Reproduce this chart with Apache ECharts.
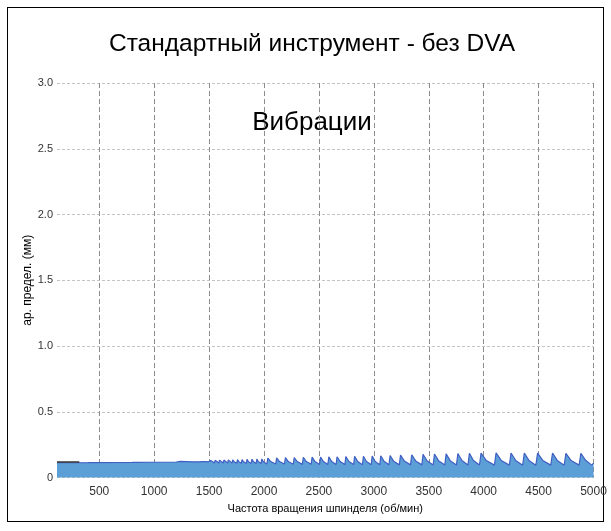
<!DOCTYPE html>
<html>
<head>
<meta charset="utf-8">
<script src="https://cdn.jsdelivr.net/npm/echarts@6/dist/echarts.min.js"></script>
<style>
html,body{margin:0;padding:0;background:#fff;}
#frame{position:absolute;left:7px;top:7px;width:597px;height:515px;border:1.5px solid #000;box-sizing:border-box;}
#chart{position:absolute;left:0;top:0;width:611px;height:531px;}
</style>
</head>
<body>
<div id="frame"></div>
<div id="chart"></div>
<script>
const chartTitle = 'Стандартный инструмент - без DVA';
const zoneLabel = 'Вибрации';
const xAxisName = 'Частота вращения шпинделя (об/мин)';
const yAxisName = 'ар. предел. (мм)';
const xRange = [115, 5000];
const yRange = [0, 3];
const xTickValues = [500, 1000, 1500, 2000, 2500, 3000, 3500, 4000, 4500, 5000];

// stability limit curve [rpm, mm]
const vibration = [
  [115,0.112],[400,0.113],[800,0.115],[1200,0.118],[1240,0.122],[1250,0.118],[1350,0.119],
  [1360,0.124],[1375,0.119],[1390,0.124],[1405,0.119],[1420,0.125],[1435,0.120],[1450,0.125],[1465,0.120],[1480,0.126],[1495,0.119],
  [1509,0.112],[1515,0.130],[1528,0.120],
  [1549,0.111],[1555,0.131],[1568,0.120],
  [1589,0.110],[1595,0.132],[1608,0.119],
  [1629,0.110],[1635,0.133],[1648,0.119],
  [1669,0.109],[1675,0.134],[1688,0.119],
  [1709,0.109],[1715,0.135],[1728,0.119],
  [1752,0.108],[1758,0.136],[1771,0.119],
  [1794,0.108],[1800,0.137],[1814,0.119],
  [1839,0.107],[1845,0.138],[1859,0.119],
  [1883,0.107],[1890,0.139],[1904,0.119],
  [1928,0.106],[1935,0.140],[1949,0.119],
  [1973,0.106],[1980,0.141],[1994,0.119],
  [2026,0.103],[2035,0.148],[2061,0.121],
  [2106,0.102],[2115,0.150],[2141,0.121],
  [2186,0.102],[2195,0.151],[2221,0.121],
  [2266,0.101],[2275,0.152],[2302,0.121],
  [2349,0.100],[2358,0.154],[2385,0.121],
  [2429,0.100],[2438,0.155],[2464,0.121],
  [2506,0.099],[2515,0.156],[2541,0.121],
  [2581,0.099],[2590,0.157],[2616,0.121],
  [2656,0.098],[2665,0.158],[2693,0.122],
  [2736,0.098],[2745,0.160],[2773,0.122],
  [2816,0.098],[2825,0.161],[2853,0.122],
  [2896,0.097],[2905,0.162],[2933,0.122],
  [2976,0.097],[2985,0.163],[3012,0.122],
  [3054,0.097],[3063,0.165],[3093,0.123],
  [3138,0.097],[3148,0.167],[3181,0.123],
  [3232,0.096],[3243,0.170],[3278,0.125],
  [3334,0.096],[3345,0.173],[3381,0.126],
  [3437,0.096],[3448,0.176],[3484,0.127],
  [3540,0.095],[3552,0.178],[3589,0.128],
  [3646,0.095],[3658,0.180],[3695,0.128],
  [3752,0.095],[3765,0.182],[3802,0.129],
  [3857,0.095],[3870,0.184],[3907,0.129],
  [3962,0.095],[3976,0.186],[4024,0.129],
  [4098,0.094],[4113,0.187],[4160,0.130],
  [4234,0.094],[4249,0.186],[4291,0.130],
  [4355,0.094],[4370,0.186],[4412,0.130],
  [4475,0.094],[4491,0.186],[4538,0.130],
  [4611,0.094],[4627,0.185],[4670,0.130],
  [4733,0.094],[4749,0.184],[4796,0.129],
  [4869,0.094],[4885,0.183],[4930,0.129],
  [4985,0.094],[5000,0.110]
];
// short dark reference segment at low speed
const refSegment = [[115,0.117],[318,0.117]];

const chart = echarts.init(document.getElementById('chart'), null, {renderer:'canvas'});
const font = "'Liberation Sans', Arial, sans-serif";
chart.setOption({
  animation:false,
  backgroundColor:'transparent',
  graphic:[{
    type:'text', x:312, y:44,
    style:{text:chartTitle, font:"24.5px 'Liberation Sans', Arial, sans-serif", fill:'#000',
      textAlign:'center', textVerticalAlign:'middle'}
  },{
    type:'text', x:312, y:123,
    style:{text:zoneLabel, font:"26px 'Liberation Sans', Arial, sans-serif", fill:'#000',
      textAlign:'center', textVerticalAlign:'middle'}
  }],
  grid:{left:57, right:17.5, top:83, bottom:53.5, containLabel:false},
  xAxis:{
    type:'value', min:xRange[0], max:xRange[1],
    name:xAxisName, nameLocation:'middle', nameGap:26,
    nameTextStyle:{fontFamily:font, fontSize:11, color:'#000'},
    axisLine:{show:false},
    axisTick:{show:false, customValues:xTickValues},
    axisLabel:{customValues:xTickValues, fontFamily:font, fontSize:12, color:'#333', margin:8,
      formatter:v => String(v)},
    splitLine:{show:true, lineStyle:{color:'#8c8c8c', type:[5,3], width:1}}
  },
  yAxis:{
    type:'value', min:yRange[0], max:yRange[1], interval:0.5,
    name:yAxisName, nameLocation:'middle', nameGap:23, nameMoveOverlap:false,
    nameTextStyle:{fontFamily:font, fontSize:12, color:'#000'},
    axisLine:{show:false}, axisTick:{show:false},
    axisLabel:{fontFamily:font, fontSize:11, color:'#333', margin:4,
      formatter:v => v === 0 ? '0' : v.toFixed(1)},
    splitLine:{show:true, lineStyle:{color:'#c4c4c4', type:[3,2], width:1}}
  },
  series:[
    {type:'line', data:vibration, showSymbol:false, smooth:false,
     lineStyle:{color:'#3f5fc4', width:1.2},
     areaStyle:{color:'#5b9fd6', opacity:1}, z:3},
    {type:'line', data:refSegment, showSymbol:false,
     lineStyle:{color:'#333', width:1.5}, z:4}
  ]
});
</script>
</body>
</html>
